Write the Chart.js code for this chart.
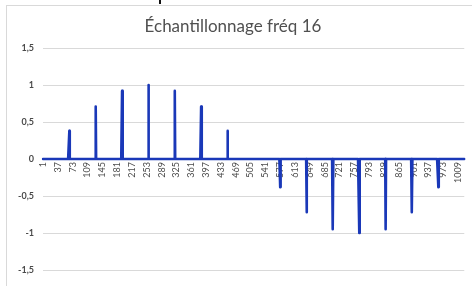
<!DOCTYPE html>
<html>
<head>
<meta charset="utf-8">
<script src="https://cdn.jsdelivr.net/npm/chart.js@4/dist/chart.umd.min.js"></script>
<style>
  html, body { margin: 0; padding: 0; background: #ffffff; width: 472px; height: 286px; overflow: hidden; }
  #frame { position: absolute; left: 6px; top: 5px; width: 470px; height: 290px; border-left: 1px solid #d9d9d9; border-top: 1px solid #d9d9d9; }
  #frag { position: absolute; left: 159px; top: 0px; width: 2px; height: 4px; background: #111; }
  #c { position: absolute; left: 0; top: 0; }
</style>
</head>
<body>
<div id="frame"></div>
<div id="frag"></div>
<canvas id="c" width="472" height="286"></canvas>
<script>
// --- data ---
const chartTitle = "Échantillonnage fréq 16";
const pointCount = 1024;          // number of categories on the x axis (1 .. 1024)
const sampleStep = 64;            // one sample every 64 categories
const sampleValues = [0, 0.38, 0.71, 0.92, 1, 0.92, 0.71, 0.38, 0, -0.38, -0.72, -0.95, -1, -0.95, -0.72, -0.38];
const labelStep = 36;             // x tick labels shown: 1, 37, 73, ... 1009
const yTicks = [-1.5, -1, -0.5, 0, 0.5, 1, 1.5];

// categories and series table built from the arrays above
const categories = [];
const seriesValues = [];
for (let i = 0; i < pointCount; i++) {
  categories.push(String(i + 1));
  seriesValues.push(i % sampleStep === 0 ? sampleValues[i / sampleStep] : 0);
}

const textColor = '#4a4a4a';

new Chart(document.getElementById('c'), {
  type: 'line',
  data: {
    labels: categories,
    datasets: [{
      data: seriesValues,
      borderColor: '#1a38b8',
      borderWidth: 2.6,
      borderJoinStyle: 'round',
      borderCapStyle: 'round',
      pointRadius: 0,
      tension: 0,
      fill: false
    }]
  },
  options: {
    responsive: false,
    animation: false,
    layout: { padding: { left: 0, right: 6, top: 0, bottom: 16 } },
    plugins: {
      legend: { display: false },
      tooltip: { enabled: false },
      title: {
        display: true,
        text: chartTitle,
        color: '#505050',
        font: { family: 'Lato', size: 17, weight: 'normal' },
        padding: { top: 16, bottom: 11.6 }
      }
    },
    scales: {
      x: {
        type: 'category',
        position: { y: 0 },
        grid: { display: false, drawTicks: false },
        border: { display: true, color: '#bfbfbf' },
        ticks: {
          autoSkip: false,
          minRotation: 90,
          maxRotation: 90,
          padding: 3,
          color: textColor,
          font: { family: 'Lato', size: 9 },
          callback: function (v, idx) { return idx % labelStep === 0 ? categories[idx] : null; }
        },
        afterFit: function (s) { s.height = 0; }
      },
      y: {
        min: yTicks[0],
        max: yTicks[yTicks.length - 1],
        afterBuildTicks: function (s) { s.ticks = yTicks.map(v => ({ value: v })); },
        grid: { color: '#d9d9d9', lineWidth: 1, drawTicks: false },
        border: { display: false },
        ticks: {
          padding: 9,
          color: textColor,
          font: { family: 'Lato', size: 9, weight: 'bold' },
          callback: function (v) { return String(v).replace('.', ','); }
        },
        afterFit: function (s) { s.width = 43; }
      }
    }
  }
});
</script>
</body>
</html>
